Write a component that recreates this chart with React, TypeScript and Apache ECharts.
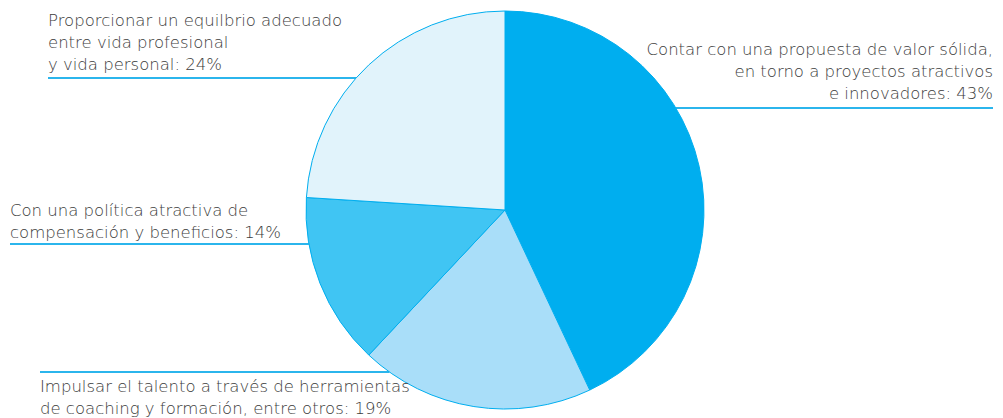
import React, { useEffect, useRef } from "react";
import * as echarts from "echarts";

const categories = [
  "Contar con una propuesta de valor sólida,\nen torno a proyectos atractivos\ne innovadores",
  "Impulsar el talento a través de herramientas\nde coaching y formación, entre otros",
  "Con una política atractiva de\ncompensación y beneficios",
  "Proporcionar un equilbrio adecuado\nentre vida profesional\ny vida personal",
];
const values = [43, 19, 14, 24];
const colors = ["#00AEEF", "#A9DEF9", "#40C5F3", "#E1F3FB"];

const W = 1003;
const H = 418;
const CX = 505;
const CY = 210;
const R = 199;

export default function App() {
  const ref = useRef<HTMLDivElement>(null);
  useEffect(() => {
    if (!ref.current) return;
    const chart = echarts.init(ref.current, null, { renderer: "svg" });
    const font = "'DejaVu Sans', sans-serif";
    const textColor = "#3c3c3c";
    const lineColor = "#2BB5EC";
    const edgeX = (y: number, side: number) =>
      CX + side * Math.sqrt(Math.max(0, R * R - (y - CY) * (y - CY)));

    const annotations = [
      { idx: 3, x: 48, y: 9, align: "left", lineY: 78, lx1: 48, side: -1 },
      { idx: 0, x: 993, y: 38, align: "right", lineY: 108, lx1: 993, side: 1 },
      { idx: 2, x: 10, y: 199, align: "left", lineY: 244, lx1: 10, side: -1 },
      { idx: 1, x: 40, y: 375, align: "left", lineY: 372, lx1: 40, side: -1 },
    ];

    const graphics: any[] = [];
    annotations.forEach((a) => {
      graphics.push({
        type: "text",
        x: a.x,
        y: a.y,
        z: 10,
        style: {
          text: `${categories[a.idx]}: ${values[a.idx]}%`,
          fill: textColor,
          fontFamily: font,
          fontSize: 16.5,
          fontWeight: 200,
          lineHeight: 22,
          align: a.align,
          verticalAlign: "top",
        },
      });
      graphics.push({
        type: "line",
        z: 0,
        shape: { x1: a.lx1, y1: a.lineY, x2: edgeX(a.lineY, a.side), y2: a.lineY },
        style: { stroke: lineColor, lineWidth: 2 },
      });
    });

    chart.setOption({
      animation: false,
      backgroundColor: "#ffffff",
      graphic: graphics,
      series: [
        {
          type: "pie",
          center: [CX, CY],
          radius: [0, R],
          startAngle: 90,
          clockwise: true,
          z: 5,
          label: { show: false },
          labelLine: { show: false },
          emphasis: { disabled: true },
          itemStyle: { borderColor: "#00AEEF", borderWidth: 1 },
          data: values.map((v, i) => ({
            value: v,
            name: categories[i],
            itemStyle: { color: colors[i] },
          })),
        },
      ],
    });
    return () => chart.dispose();
  }, []);
  return (
    <div
      ref={ref}
      style={{ position: "fixed", left: 0, top: 0, width: W, height: H }}
    />
  );
}
